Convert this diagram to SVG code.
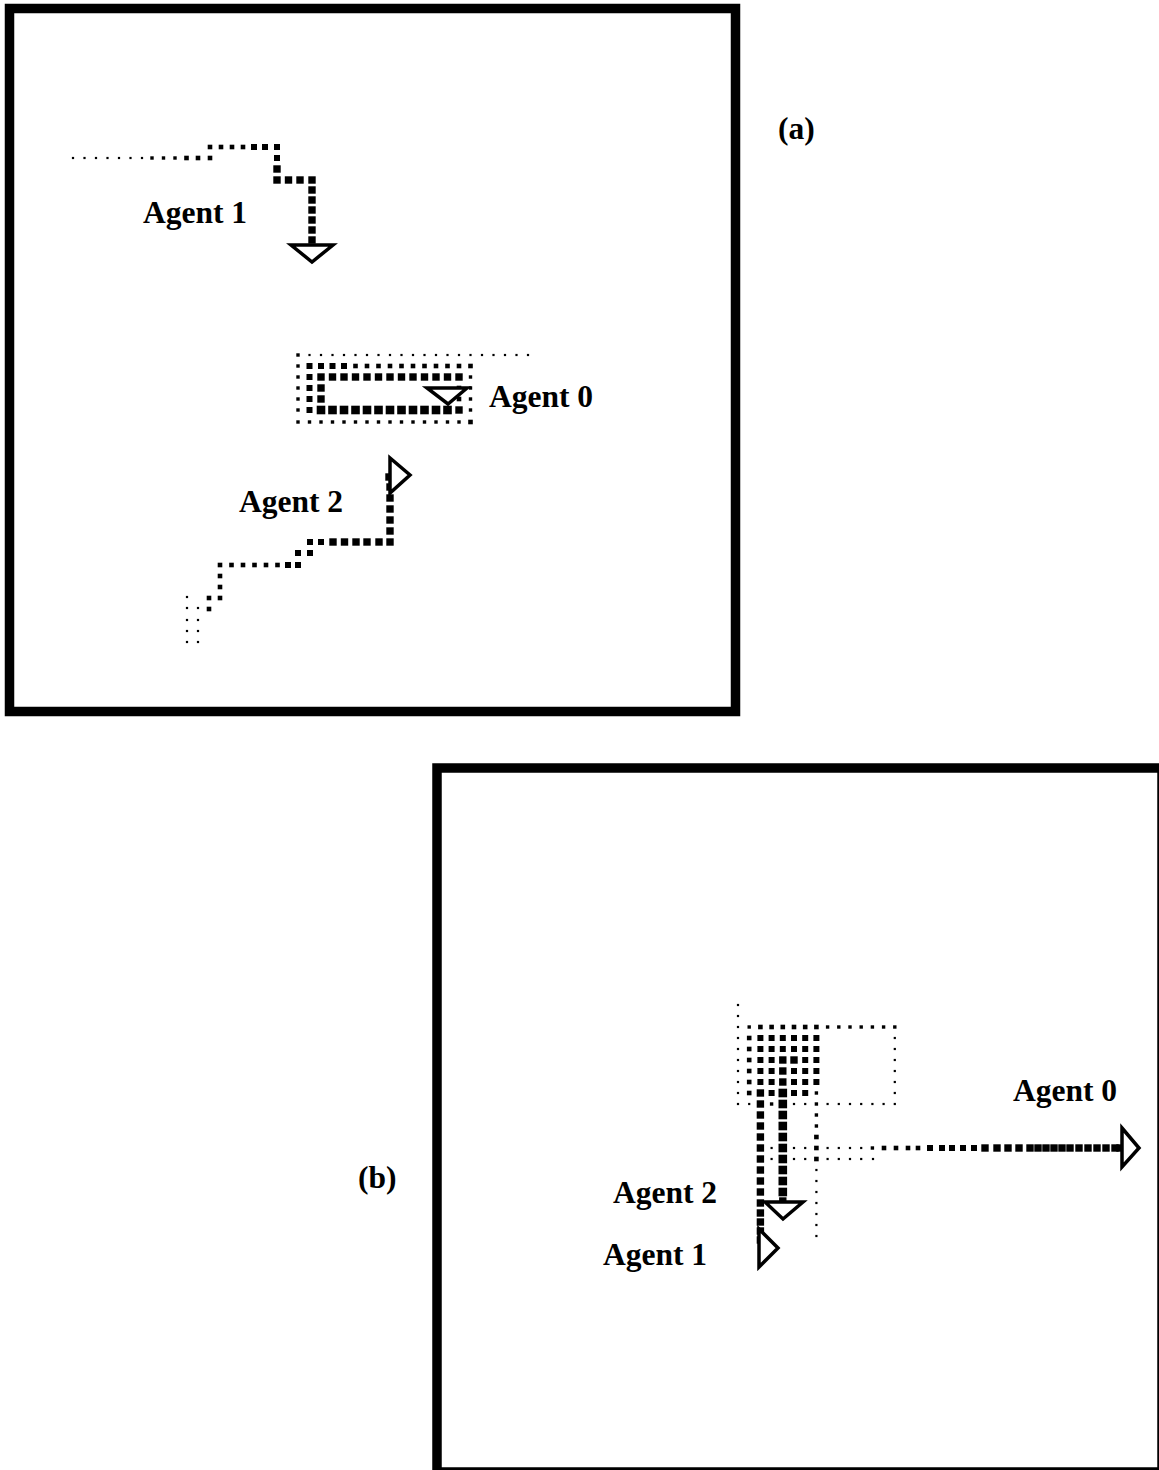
<svg xmlns="http://www.w3.org/2000/svg" xmlns:xlink="http://www.w3.org/1999/xlink" width="1159" height="1470" viewBox="0 0 1159 1470">
<style>
.frame{fill:none;stroke:#000;stroke-width:9.5}
.lbl{font-family:"Liberation Serif","Times New Roman",serif;font-weight:bold;font-size:31.5px;fill:#000}
.head{fill:#fff;stroke:#000;stroke-width:3.5;stroke-linejoin:miter}
</style>
<defs>
<rect id="d1" x="-1.1" y="-1.1" width="2.2" height="2.2"/>
<rect id="d2" x="-1.7" y="-1.7" width="3.4" height="3.4"/>
<rect id="d3" x="-2.3" y="-2.3" width="4.6" height="4.6"/>
<rect id="d4" x="-3" y="-3" width="6" height="6"/>
<rect id="d5" x="-3.7" y="-3.7" width="7.4" height="7.4"/>
<rect id="d6" x="-4.3" y="-4.3" width="8.6" height="8.6"/>
</defs>
<rect width="1159" height="1470" fill="#fff"/>

<g id="panel-a">
<rect class="frame" x="9.5" y="8.5" width="726" height="703"/>
<text class="lbl" x="778" y="139">(a)</text>

<g id="a-agent1">
<use href="#d1" x="73" y="158"/><use href="#d1" x="84.5" y="158"/><use href="#d1" x="96" y="158"/><use href="#d1" x="107.5" y="158"/><use href="#d1" x="119" y="158"/><use href="#d1" x="130.5" y="158"/><use href="#d1" x="142" y="158"/>
<use href="#d2" x="152" y="158"/><use href="#d2" x="163.5" y="158"/><use href="#d2" x="175" y="158"/><use href="#d3" x="186.5" y="158"/><use href="#d3" x="198" y="158"/>
<use href="#d3" x="210" y="158"/>
<use href="#d3" x="210" y="147"/><use href="#d3" x="221" y="147"/><use href="#d3" x="232" y="147"/><use href="#d3" x="243" y="147"/><use href="#d4" x="254" y="147"/><use href="#d4" x="265" y="147"/><use href="#d4" x="277" y="147"/>
<use href="#d4" x="277" y="158"/><use href="#d5" x="277" y="169"/><use href="#d5" x="277" y="180"/>
<use href="#d5" x="288.5" y="180"/><use href="#d5" x="300" y="180"/><use href="#d5" x="312" y="180"/>
<use href="#d5" x="312" y="190"/><use href="#d5" x="312" y="200"/><use href="#d5" x="312" y="210"/><use href="#d5" x="312" y="220"/><use href="#d5" x="312" y="230"/><use href="#d5" x="312" y="240"/>
<polygon class="head" points="291,245 333,245 312,262"/>
<text class="lbl" x="143" y="223">Agent 1</text>
</g>

<g id="a-agent0">
<use href="#d2" x="298" y="355"/>
<use href="#d1" x="309.5" y="355"/><use href="#d1" x="321" y="355"/><use href="#d1" x="332.5" y="355"/><use href="#d1" x="344" y="355"/><use href="#d1" x="355.5" y="355"/><use href="#d1" x="367" y="355"/><use href="#d1" x="378.5" y="355"/><use href="#d1" x="390" y="355"/><use href="#d1" x="401.5" y="355"/><use href="#d1" x="413" y="355"/><use href="#d1" x="424.5" y="355"/><use href="#d1" x="436" y="355"/><use href="#d1" x="447.5" y="355"/><use href="#d1" x="459" y="355"/><use href="#d1" x="470.5" y="355"/><use href="#d1" x="482" y="355"/><use href="#d1" x="493.5" y="355"/><use href="#d1" x="505" y="355"/><use href="#d1" x="516.5" y="355"/><use href="#d1" x="528" y="355"/>
<use href="#d2" x="298" y="366"/>
<use href="#d4" x="309.5" y="366"/><use href="#d4" x="321" y="366"/><use href="#d4" x="332.5" y="366"/><use href="#d4" x="344" y="366"/>
<use href="#d3" x="355.5" y="366"/><use href="#d3" x="367" y="366"/><use href="#d3" x="378.5" y="366"/><use href="#d3" x="390" y="366"/><use href="#d3" x="401.5" y="366"/><use href="#d3" x="413" y="366"/><use href="#d3" x="424.5" y="366"/><use href="#d3" x="436" y="366"/><use href="#d3" x="447.5" y="366"/><use href="#d3" x="459" y="366"/><use href="#d3" x="470.5" y="366"/>
<use href="#d2" x="298" y="377"/>
<use href="#d4" x="309.5" y="377"/>
<use href="#d5" x="321" y="377"/><use href="#d5" x="332.5" y="377"/><use href="#d5" x="344" y="377"/><use href="#d5" x="355.5" y="377"/><use href="#d5" x="367" y="377"/><use href="#d5" x="378.5" y="377"/><use href="#d5" x="390" y="377"/><use href="#d5" x="401.5" y="377"/><use href="#d5" x="413" y="377"/><use href="#d5" x="424.5" y="377"/><use href="#d5" x="436" y="377"/><use href="#d5" x="447.5" y="377"/><use href="#d5" x="459" y="377"/>
<use href="#d2" x="470.5" y="377"/>
<use href="#d2" x="298" y="388"/><use href="#d4" x="309.5" y="388"/><use href="#d5" x="321" y="388"/><use href="#d3" x="459" y="388"/><use href="#d2" x="470.5" y="388"/>
<use href="#d2" x="298" y="399"/><use href="#d4" x="309.5" y="399"/><use href="#d5" x="321" y="399"/><use href="#d3" x="459" y="399"/><use href="#d2" x="470.5" y="399"/>
<use href="#d2" x="298" y="410"/>
<use href="#d4" x="309.5" y="410"/>
<use href="#d6" x="321" y="410"/><use href="#d6" x="332.5" y="410"/><use href="#d6" x="344" y="410"/><use href="#d6" x="355.5" y="410"/><use href="#d6" x="367" y="410"/><use href="#d6" x="378.5" y="410"/><use href="#d6" x="390" y="410"/><use href="#d6" x="401.5" y="410"/><use href="#d6" x="413" y="410"/><use href="#d6" x="424.5" y="410"/><use href="#d6" x="436" y="410"/><use href="#d6" x="447.5" y="410"/>
<use href="#d5" x="459" y="410"/>
<use href="#d2" x="470.5" y="410"/>
<use href="#d2" x="298" y="422"/><use href="#d2" x="309.5" y="422"/><use href="#d2" x="321" y="422"/><use href="#d2" x="332.5" y="422"/><use href="#d2" x="344" y="422"/><use href="#d2" x="355.5" y="422"/><use href="#d2" x="367" y="422"/><use href="#d2" x="378.5" y="422"/><use href="#d2" x="390" y="422"/><use href="#d2" x="401.5" y="422"/><use href="#d2" x="413" y="422"/><use href="#d2" x="424.5" y="422"/><use href="#d2" x="436" y="422"/><use href="#d2" x="447.5" y="422"/><use href="#d2" x="459" y="422"/><use href="#d3" x="470.5" y="422"/>
<polygon class="head" points="427,388 467,388 448,404"/>
<text class="lbl" x="489" y="407">Agent 0</text>
</g>

<g id="a-agent2">
<use href="#d1" x="187" y="597"/><use href="#d1" x="187" y="608"/><use href="#d1" x="187" y="620"/><use href="#d1" x="187" y="631"/><use href="#d1" x="187" y="642"/>
<use href="#d1" x="198" y="608"/><use href="#d1" x="198" y="620"/><use href="#d1" x="198" y="631"/><use href="#d1" x="198" y="642"/>
<use href="#d3" x="209" y="598"/><use href="#d3" x="209" y="609"/>
<use href="#d3" x="220" y="598"/><use href="#d3" x="220" y="587"/><use href="#d3" x="220" y="576"/>
<use href="#d3" x="220" y="565"/><use href="#d3" x="231.5" y="565"/><use href="#d3" x="243" y="565"/><use href="#d3" x="254.5" y="565"/><use href="#d3" x="266" y="565"/><use href="#d3" x="277.5" y="565"/><use href="#d4" x="288" y="565"/><use href="#d4" x="298" y="565"/>
<use href="#d4" x="298" y="553"/><use href="#d4" x="310" y="553"/><use href="#d4" x="310" y="542"/>
<use href="#d4" x="321" y="542"/><use href="#d5" x="333" y="542"/><use href="#d5" x="344.5" y="542"/><use href="#d5" x="356" y="542"/><use href="#d5" x="367" y="542"/><use href="#d5" x="379" y="542"/><use href="#d5" x="390" y="542"/>
<use href="#d5" x="390" y="531"/><use href="#d5" x="390" y="520"/><use href="#d5" x="390" y="509"/><use href="#d5" x="390" y="498"/><use href="#d5" x="390" y="487"/><use href="#d5" x="389" y="477"/>
<polygon class="head" points="390,458 390,493 410,475"/>
<text class="lbl" x="239" y="512">Agent 2</text>
</g>
</g>

<g id="panel-b">
<rect class="frame" x="437" y="768" width="725" height="704"/>
<text class="lbl" x="358" y="1188">(b)</text>

<g id="b-trails">
<use href="#d1" x="738" y="1005"/><use href="#d1" x="738" y="1016"/><use href="#d1" x="738" y="1027"/><use href="#d1" x="738" y="1038"/><use href="#d1" x="738" y="1049"/><use href="#d1" x="738" y="1060"/><use href="#d1" x="738" y="1071"/><use href="#d1" x="738" y="1082"/><use href="#d1" x="738" y="1093"/><use href="#d1" x="738" y="1104"/>
<use href="#d2" x="749.2" y="1027"/><use href="#d3" x="760.4" y="1027"/><use href="#d3" x="771.6" y="1027"/><use href="#d3" x="782.8" y="1027"/><use href="#d3" x="794" y="1027"/><use href="#d3" x="805.2" y="1027"/><use href="#d3" x="816.4" y="1027"/><use href="#d2" x="827.6" y="1027"/><use href="#d2" x="838.8" y="1027"/><use href="#d2" x="850" y="1027"/><use href="#d2" x="861.2" y="1027"/><use href="#d2" x="872.4" y="1027"/><use href="#d2" x="883.6" y="1027"/><use href="#d2" x="894.8" y="1027"/>
<use href="#d3" x="749.2" y="1038"/><use href="#d4" x="760.4" y="1038"/><use href="#d4" x="771.6" y="1038"/><use href="#d4" x="782.8" y="1038"/><use href="#d4" x="794" y="1038"/><use href="#d4" x="805.2" y="1038"/><use href="#d4" x="816.4" y="1038"/><use href="#d1" x="894.8" y="1038"/>
<use href="#d3" x="749.2" y="1049"/><use href="#d4" x="760.4" y="1049"/><use href="#d4" x="771.6" y="1049"/><use href="#d4" x="782.8" y="1049"/><use href="#d4" x="794" y="1049"/><use href="#d4" x="805.2" y="1049"/><use href="#d4" x="816.4" y="1049"/><use href="#d1" x="894.8" y="1049"/>
<use href="#d3" x="749.2" y="1060"/><use href="#d4" x="760.4" y="1060"/><use href="#d4" x="771.6" y="1060"/><use href="#d5" x="782.8" y="1060"/><use href="#d5" x="794" y="1060"/><use href="#d4" x="805.2" y="1060"/><use href="#d4" x="816.4" y="1060"/><use href="#d1" x="894.8" y="1060"/>
<use href="#d3" x="749.2" y="1071"/><use href="#d4" x="760.4" y="1071"/><use href="#d4" x="771.6" y="1071"/><use href="#d5" x="782.8" y="1071"/><use href="#d4" x="794" y="1071"/><use href="#d4" x="805.2" y="1071"/><use href="#d4" x="816.4" y="1071"/><use href="#d1" x="894.8" y="1071"/>
<use href="#d3" x="749.2" y="1082"/><use href="#d4" x="760.4" y="1082"/><use href="#d4" x="771.6" y="1082"/><use href="#d5" x="782.8" y="1082"/><use href="#d4" x="794" y="1082"/><use href="#d4" x="805.2" y="1082"/><use href="#d4" x="816.4" y="1082"/><use href="#d1" x="894.8" y="1082"/>
<use href="#d3" x="749.2" y="1093"/><use href="#d4" x="771.6" y="1093"/><use href="#d4" x="794" y="1093"/><use href="#d4" x="805.2" y="1093"/><use href="#d2" x="816.4" y="1093"/><use href="#d1" x="894.8" y="1093"/>
<use href="#d1" x="749.2" y="1104"/><use href="#d2" x="771.6" y="1104"/><use href="#d1" x="794" y="1104"/><use href="#d1" x="805.2" y="1104"/><use href="#d2" x="816.4" y="1104"/><use href="#d1" x="827.6" y="1104"/><use href="#d1" x="838.8" y="1104"/><use href="#d1" x="850" y="1104"/><use href="#d1" x="861.2" y="1104"/><use href="#d1" x="872.4" y="1104"/><use href="#d1" x="883.6" y="1104"/><use href="#d1" x="894.8" y="1104"/>
<use href="#d2" x="816.4" y="1115"/><use href="#d2" x="816.4" y="1126"/><use href="#d3" x="816.4" y="1137"/>
<use href="#d1" x="816.4" y="1170"/><use href="#d1" x="816.4" y="1181"/><use href="#d1" x="816.4" y="1192"/><use href="#d1" x="816.4" y="1203"/><use href="#d1" x="816.4" y="1214"/><use href="#d1" x="816.4" y="1225"/><use href="#d1" x="816.4" y="1236"/>
<use href="#d1" x="771.6" y="1159"/><use href="#d1" x="794" y="1159"/><use href="#d1" x="805.2" y="1159"/><use href="#d3" x="816.4" y="1159"/><use href="#d1" x="827.6" y="1159"/><use href="#d1" x="838.8" y="1159"/><use href="#d1" x="850" y="1159"/><use href="#d1" x="861.2" y="1159"/><use href="#d1" x="873" y="1159"/>
</g>

<g id="b-agent0">
<use href="#d1" x="771.6" y="1148"/><use href="#d1" x="794" y="1148"/><use href="#d1" x="805.2" y="1148"/><use href="#d3" x="816.4" y="1148"/>
<use href="#d1" x="827.6" y="1148"/><use href="#d1" x="838.8" y="1148"/><use href="#d1" x="850" y="1148"/><use href="#d1" x="861.2" y="1148"/>
<use href="#d2" x="872.4" y="1148"/><use href="#d3" x="884" y="1148"/><use href="#d3" x="896" y="1148"/><use href="#d3" x="908" y="1148"/>
<use href="#d3" x="918" y="1148"/><use href="#d4" x="930" y="1148"/><use href="#d4" x="942" y="1148"/><use href="#d4" x="952" y="1148"/><use href="#d4" x="963" y="1148"/>
<use href="#d4" x="974" y="1148"/><use href="#d5" x="985" y="1148"/><use href="#d5" x="997" y="1148"/><use href="#d5" x="1008" y="1148"/><use href="#d5" x="1019" y="1148"/>
<use href="#d5" x="1030" y="1148"/><use href="#d5" x="1038" y="1148"/><use href="#d5" x="1046" y="1148"/><use href="#d5" x="1054" y="1148"/><use href="#d5" x="1062" y="1148"/><use href="#d5" x="1070" y="1148"/><use href="#d5" x="1079" y="1148"/><use href="#d5" x="1088" y="1148"/><use href="#d5" x="1097" y="1148"/><use href="#d5" x="1106" y="1148"/><use href="#d5" x="1115" y="1148"/><use href="#d5" x="1120" y="1148"/>
<polygon class="head" points="1122,1128 1139,1148 1122,1167"/>
<text class="lbl" x="1013" y="1101">Agent 0</text>
</g>

<g id="b-agent1">
<use href="#d5" x="760.4" y="1093"/><use href="#d5" x="760.4" y="1104"/><use href="#d5" x="760.4" y="1115"/><use href="#d5" x="760.4" y="1126"/><use href="#d5" x="760.4" y="1137"/><use href="#d5" x="760.4" y="1148"/><use href="#d5" x="760.4" y="1159"/><use href="#d5" x="760.4" y="1170"/><use href="#d5" x="760.4" y="1181"/><use href="#d5" x="760.4" y="1192"/><use href="#d5" x="760.4" y="1203"/><use href="#d5" x="760.4" y="1213"/><use href="#d5" x="760.4" y="1222"/><use href="#d5" x="760.4" y="1231"/><use href="#d5" x="760.4" y="1240"/>
<polygon class="head" points="759,1229 778,1248 759,1267"/>
<text class="lbl" x="603" y="1265">Agent 1</text>
</g>

<g id="b-agent2">
<use href="#d6" x="782.8" y="1093"/><use href="#d6" x="782.8" y="1104"/><use href="#d6" x="782.8" y="1115"/><use href="#d6" x="782.8" y="1126"/><use href="#d6" x="782.8" y="1137"/><use href="#d6" x="782.8" y="1148"/><use href="#d6" x="782.8" y="1159"/><use href="#d6" x="782.8" y="1170"/><use href="#d6" x="782.8" y="1181"/><use href="#d6" x="782.8" y="1192"/><use href="#d5" x="782.8" y="1201"/>
<polygon class="head" points="765,1202 803,1202 783,1219"/>
<text class="lbl" x="613" y="1203">Agent 2</text>
</g>
</g>
</svg>
